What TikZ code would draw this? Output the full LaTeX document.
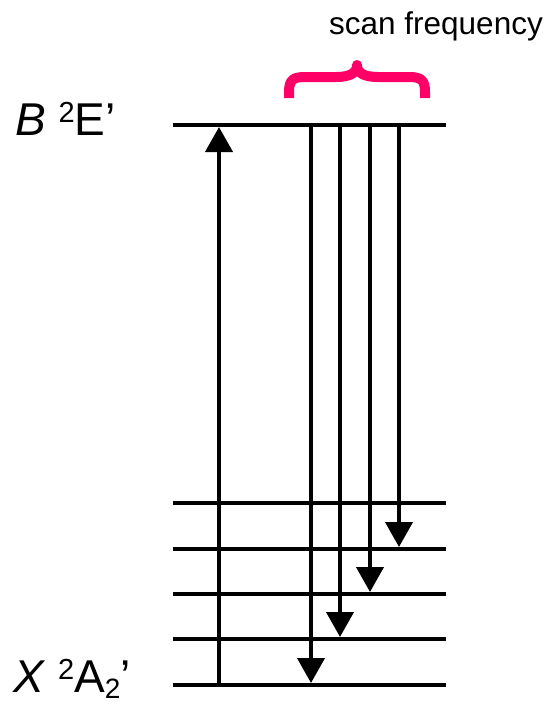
\documentclass[tikz,border=0pt]{standalone}
\usepackage{fontspec}
\setmainfont{Liberation Sans}
\usetikzlibrary{arrows.meta}
\definecolor{scanpink}{RGB}{255,0,102}
\newcommand{\supdigit}[1]{\raisebox{13pt}{\fontsize{29}{29}\selectfont #1}}
\newcommand{\subdigit}[1]{\raisebox{-6pt}{\fontsize{28}{28}\selectfont #1}}
\tikzset{
  level/.style={line width=4pt},
  trans/.style={line width=4pt,-{Triangle[width=27pt,length=25pt]}},
  statelabel/.style={anchor=base west,inner sep=0pt,font=\fontsize{46}{50}\selectfont},
}
\begin{document}
\begin{tikzpicture}[x=1pt,y=-1pt]
\useasboundingbox (0,0) rectangle (550,704);
% energy levels
\foreach \n/\y in {0/685,1/639,2/594,3/549,4/503,5/125}
  \draw[level] (173,\y) coordinate (lv\n w) -- (446,\y) coordinate (lv\n e);
% state labels
\node[statelabel] (Bstate) at (15,135) {\textit{B} \supdigit{2}E’};
\node[statelabel] (Xstate) at (13,692) {\textit{X} \supdigit{2}A\subdigit{2}’};
% excitation
\coordinate (up0) at (219,685);
\coordinate (up1) at (219,127);
\draw[trans] (up0) -- (up1);
% emission down to the vibrational levels
\foreach \i/\x/\y in {1/311/683,2/340/637,3/370/592,4/399/547}{
  \coordinate (em\i a) at (\x,125);
  \coordinate (em\i b) at (\x,\y);
  \draw[trans] (em\i a) -- (em\i b);
}
% scanned range
\draw[scanpink,line width=10pt,line join=round] (289,98) -- (289,92)
  .. controls (289,80) and (293,77) .. (305,77) -- (336,77)
  .. controls (350,77) and (357,73) .. (357,65)
  .. controls (357,73) and (364,77) .. (378,77) -- (409,77)
  .. controls (421,77) and (425,80) .. (425,92) -- (425,98);
\node[anchor=base west,inner sep=0pt,font=\fontsize{31.5}{34}\selectfont] (scan) at (329,34) {scan frequency};
\end{tikzpicture}
\end{document}
